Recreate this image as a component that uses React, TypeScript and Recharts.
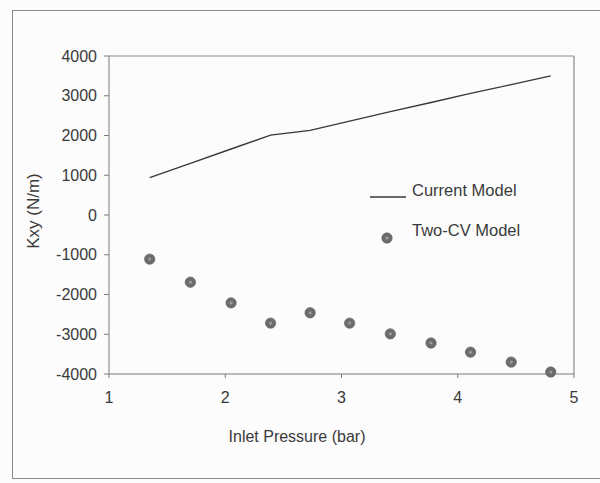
import React from 'react';
import { ComposedChart, Line, Scatter, XAxis, YAxis, Label, ReferenceLine } from 'recharts';

const pressures = [1.35, 1.7, 2.05, 2.39, 2.73, 3.07, 3.42, 3.77, 4.11, 4.46, 4.8];
const currentModel = [940, 1300, 1660, 2010, 2130, 2360, 2600, 2830, 3060, 3280, 3500];
const twoCVModel = [-1110, -1690, -2210, -2720, -2460, -2720, -2990, -3220, -3450, -3700, -3950];
const xTicks = [1, 2, 3, 4, 5];
const yTicks = [-4000, -3000, -2000, -1000, 0, 1000, 2000, 3000, 4000];
const xTitle = 'Inlet Pressure (bar)';
const yTitle = 'Kxy (N/m)';
const seriesNames = ['Current Model', 'Two-CV Model'];

const data = pressures.map((p, i) => ({ x: p, current: currentModel[i], twoCV: twoCVModel[i] }));

const FONT = '"Liberation Sans", Arial, sans-serif';
const TEXT = '#3a3a3a';
const AXIS = '#7a7a7a';
const MARK = '#6c6c6c';

const Dot = (props: any) => {
  const { cx, cy } = props;
  if (cx == null || cy == null) return null;
  return (
    <g>
      <circle cx={cx} cy={cy} r={5.2} fill={MARK} stroke="#5a5a5a" strokeWidth={0.6} />
      <circle cx={cx} cy={cy} r={1.6} fill="#9a9a9a" />
    </g>
  );
};

export default function App() {
  return (
    <div style={{ position: 'absolute', left: 0, top: 0, width: 600, height: 483, overflow: 'hidden', background: '#fcfcfc' }}>
      <div style={{ position: 'absolute', left: 12, top: 10, width: 640, height: 469, border: '1px solid #8a8a8a', boxSizing: 'border-box' }} />
      <ComposedChart
        width={600}
        height={483}
        data={data}
        margin={{ top: 56, right: 26, left: 0, bottom: 79 }}
        style={{ position: 'absolute', left: 0, top: 0 }}
      >
        <XAxis
          type="number"
          dataKey="x"
          domain={[1, 5]}
          ticks={xTicks}
          height={30}
          tickSize={4}
          tickMargin={14}
          stroke={AXIS}
          tick={{ fill: TEXT, fontSize: 16, fontFamily: FONT }}
          tickLine={{ stroke: AXIS }}
        >
          <Label
            content={(p: any) => (
              <text x={297} y={442} textAnchor="middle" fill={TEXT} fontSize={16} fontFamily={FONT}>
                {xTitle}
              </text>
            )}
          />
        </XAxis>
        <YAxis
          type="number"
          domain={[-4000, 4000]}
          ticks={yTicks}
          width={109}
          tickSize={5}
          tickMargin={7}
          stroke={AXIS}
          tick={{ fill: TEXT, fontSize: 16, fontFamily: FONT }}
          tickLine={{ stroke: AXIS }}
        >
          <Label
            content={(p: any) => (
              <text
                x={39}
                y={211}
                transform="rotate(-90 39 211)"
                textAnchor="middle"
                fill={TEXT}
                fontSize={17}
                fontFamily={FONT}
              >
                {yTitle}
              </text>
            )}
          />
        </YAxis>
        <ReferenceLine y={4000} stroke="#8a8a8a" strokeWidth={1.2} />
        <ReferenceLine x={5} stroke="#8a8a8a" strokeWidth={1.2} />
        <Line
          dataKey="current"
          name={seriesNames[0]}
          stroke="#383838"
          strokeWidth={1.4}
          dot={false}
          activeDot={false}
          isAnimationActive={false}
        />
        <Scatter dataKey="twoCV" name={seriesNames[1]} shape={Dot} isAnimationActive={false} />
      </ComposedChart>
      <svg width={600} height={483} style={{ position: 'absolute', left: 0, top: 0, pointerEvents: 'none' }}>
        <line x1={370} y1={197} x2={406} y2={197} stroke="#383838" strokeWidth={1.4} />
        <text x={412} y={196} fill={TEXT} fontSize={16.5} fontFamily={FONT}>{seriesNames[0]}</text>
        <Dot cx={387} cy={238} />
        <text x={412} y={236} fill={TEXT} fontSize={16.5} fontFamily={FONT}>{seriesNames[1]}</text>
      </svg>
    </div>
  );
}
